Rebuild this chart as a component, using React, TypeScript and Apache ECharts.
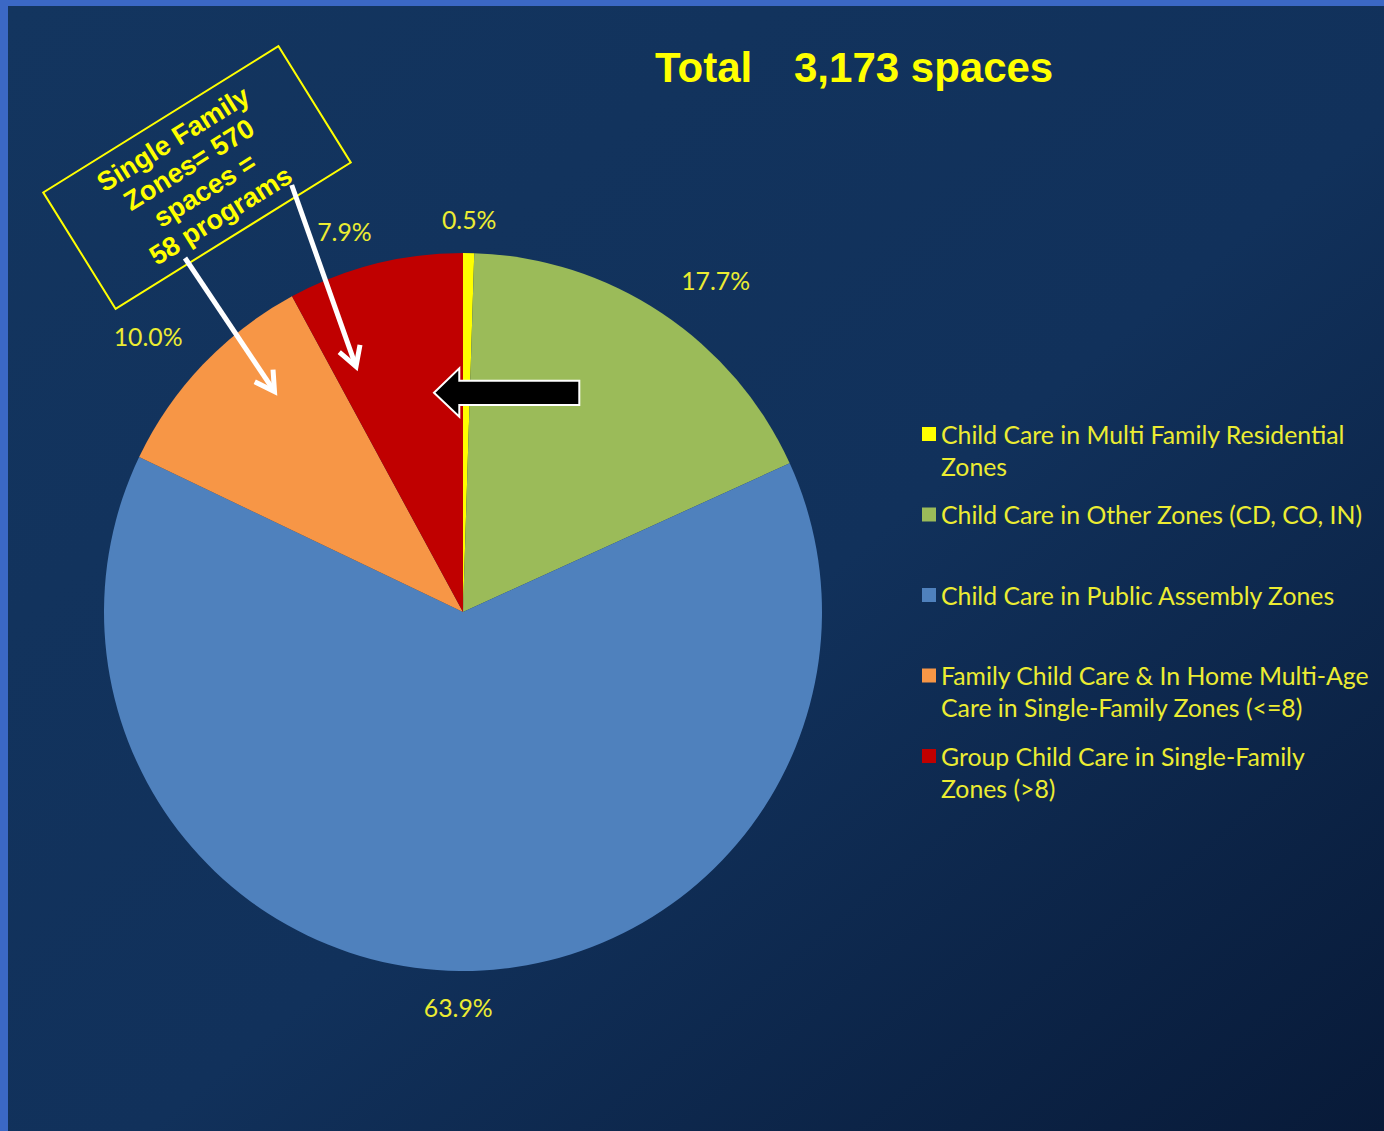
import React, { useEffect, useRef } from "react";
import * as echarts from "echarts";

// ---------- data ----------
const categories = [
  "Child Care in Multi Family Residential\nZones",
  "Child Care in Other Zones (CD, CO, IN)",
  "Child Care in Public Assembly Zones",
  "Family Child Care & In Home Multi-Age\nCare in Single-Family Zones (<=8)",
  "Group Child Care in Single-Family\nZones (>8)",
];
const shares = [0.5, 17.7, 63.9, 10.0, 7.9];
const titleLabel = "Total";
const titleValue = "3,173 spaces";
const calloutLines = ["Single Family", "Zones= 570", "spaces =", "58 programs"];

// ---------- styles ----------
const colors = ["#ffff00", "#9bbb59", "#4f81bd", "#f79646", "#c00000"];
const labelLen = [34, 39, 37, 41, 34];
const labelLen2 = [0, 32, 1, 25, 22];
const textYellow = "#ecec32";
const bodyFont = 'Lato, "Open Sans", sans-serif';

function lineArrow(x1: number, y1: number, x2: number, y2: number) {
  const dx = x2 - x1;
  const dy = y2 - y1;
  const len = Math.hypot(dx, dy);
  const ux = dx / len;
  const uy = dy / len;
  const head = 22;
  const a = Math.PI / 6;
  const c = Math.cos(a);
  const s = Math.sin(a);
  const w1 = [x2 - head * (ux * c - uy * s), y2 - head * (ux * s + uy * c)];
  const w2 = [x2 - head * (ux * c + uy * s), y2 - head * (-ux * s + uy * c)];
  return [
    {
      type: "line",
      z: 100,
      shape: { x1, y1, x2: x2 - ux * 2, y2: y2 - uy * 2 },
      style: { stroke: "#ffffff", lineWidth: 5 },
    },
    {
      type: "polyline",
      z: 100,
      shape: { points: [w1, [x2, y2], w2] },
      style: { stroke: "#ffffff", lineWidth: 5, fill: null, lineJoin: "miter" },
    },
  ];
}

export default function App() {
  const ref = useRef<HTMLDivElement>(null);

  useEffect(() => {
    if (!ref.current) return;
    const chart = echarts.init(ref.current, undefined, { renderer: "svg" });

    const data = categories.map((name, i) => ({
      name,
      value: shares[i],
      itemStyle: { color: colors[i] },
      labelLine: { show: false, length: labelLen[i], length2: labelLen2[i] },
    }));

    const option: any = {
      animation: false,
      backgroundColor: "#3b68c5",
      legend: {
        orient: "vertical",
        left: 917,
        top: 381,
        itemWidth: 14,
        itemHeight: 14,
        itemGap: -15.5,
        icon: "rect",
        selectedMode: false,
        data: categories,
        formatter: (name: string) => "\n" + name + (name.includes("\n") ? "" : "\n"),
        textStyle: {
          color: textYellow,
          fontFamily: bodyFont,
          fontSize: 24.8,
          lineHeight: 32,
        },
      },
      series: [
        {
          type: "pie",
          center: [463, 612],
          radius: 359,
          startAngle: 90,
          clockwise: true,
          avoidLabelOverlap: false,
          emphasis: { disabled: true },
          itemStyle: { borderWidth: 0 },
          label: {
            show: true,
            position: "outside",
            distanceToLabelLine: 0,
            color: textYellow,
            fontFamily: bodyFont,
            fontSize: 24.8,
            formatter: (p: any) => Number(p.value).toFixed(1) + "%",
          },
          labelLayout: () => ({ align: "center", verticalAlign: "middle" }),
          data,
        },
      ],
      graphic: {
        elements: [
          {
            type: "rect",
            z: -10,
            silent: true,
            shape: { x: 8, y: 6, width: 1376, height: 1125 },
            style: {
              fill: {
                type: "linear",
                x: 0,
                y: 0,
                x2: 1,
                y2: 1,
                colorStops: [
                  { offset: 0, color: "#13355f" },
                  { offset: 0.55, color: "#11315b" },
                  { offset: 1, color: "#081a38" },
                ],
              },
            },
          },
          {
            type: "text",
            z: 100,
            x: 655,
            y: 67,
            style: {
              text: titleLabel,
              fill: "#ffff00",
              fontSize: 42,
              fontWeight: "bold",
              fontFamily: '"Liberation Sans", Arial, sans-serif',
              align: "left",
              verticalAlign: "middle",
            },
          },
          {
            type: "text",
            z: 100,
            x: 794,
            y: 67,
            style: {
              text: titleValue,
              fill: "#ffff00",
              fontSize: 42,
              fontWeight: "bold",
              fontFamily: '"Liberation Sans", Arial, sans-serif',
              align: "left",
              verticalAlign: "middle",
            },
          },
          {
            type: "group",
            x: 197,
            y: 177.5,
            rotation: (31.85 * Math.PI) / 180,
            children: [
              {
                type: "rect",
                z: 100,
                shape: { x: -138.5, y: -68.5, width: 277, height: 137 },
                style: { fill: null, stroke: "#ffff00", lineWidth: 2 },
              },
              {
                type: "text",
                z: 100,
                x: 0,
                y: 0,
                style: {
                  text: calloutLines.join("\n"),
                  fill: "#ffff00",
                  fontSize: 27,
                  fontWeight: "bold",
                  fontFamily: '"Liberation Sans", Arial, sans-serif',
                  align: "center",
                  verticalAlign: "middle",
                  lineHeight: 30,
                },
              },
            ],
          },
          ...lineArrow(185, 258, 274.5, 391.5),
          ...lineArrow(291.7, 185, 356, 366.5),
          {
            type: "polygon",
            z: 100,
            shape: {
              points: [
                [434, 392.7],
                [459.3, 368.3],
                [459.3, 380.7],
                [579.3, 380.7],
                [579.3, 405],
                [459.3, 405],
                [459.3, 416.7],
              ],
            },
            style: { fill: "#000000", stroke: "#ffffff", lineWidth: 2 },
          },
        ],
      },
    };

    chart.setOption(option);
    return () => chart.dispose();
  }, []);

  return (
    <div
      ref={ref}
      style={{ position: "absolute", left: 0, top: 0, width: 1384, height: 1131 }}
    />
  );
}
